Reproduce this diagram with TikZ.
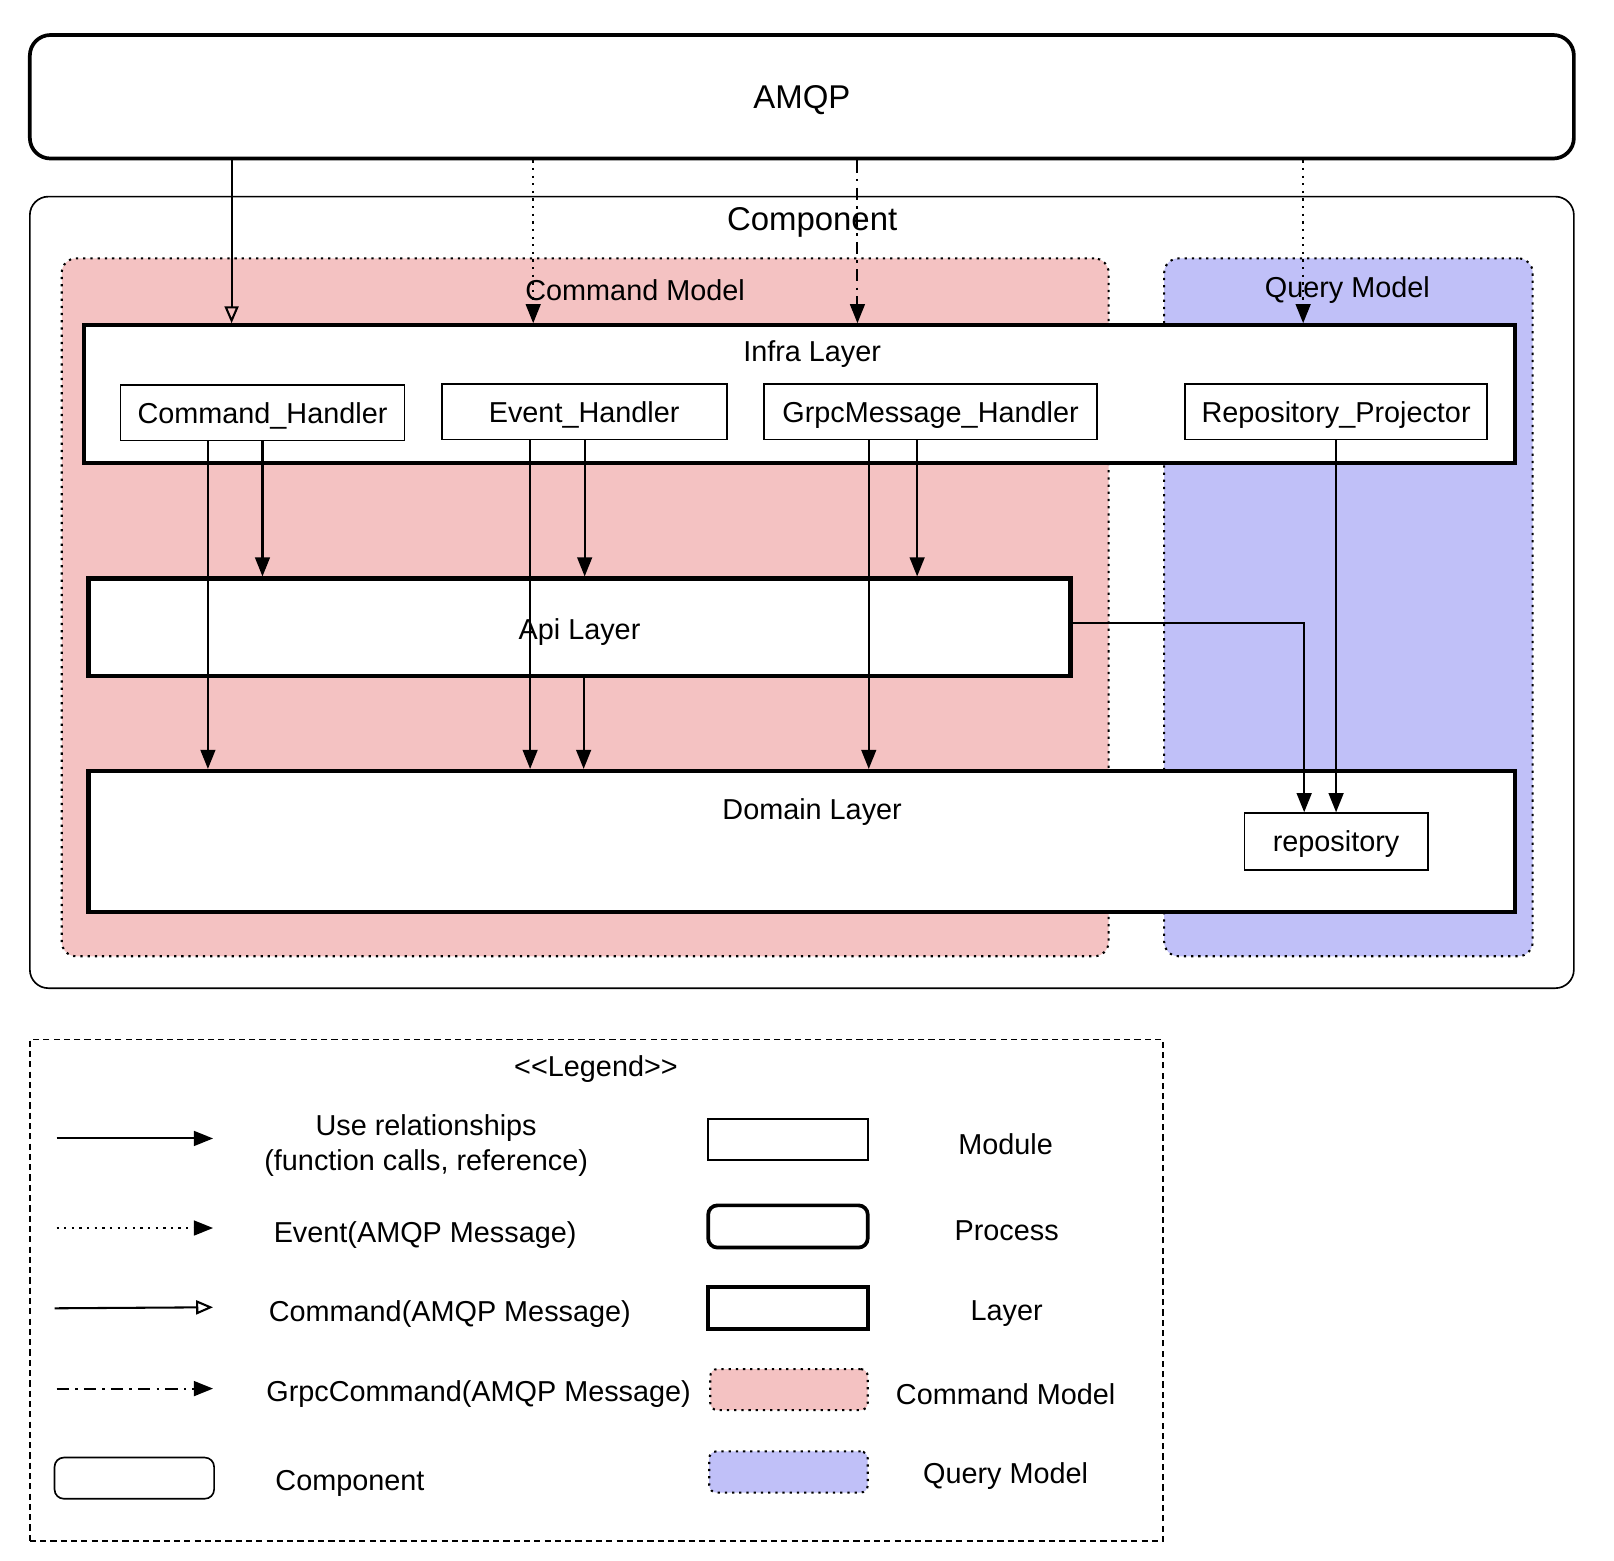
\documentclass[tikz,border=0pt]{standalone}
\usepackage{fontspec}
\setmainfont{Liberation Sans}
\usetikzlibrary{arrows.meta,fit}
\definecolor{cmdpink}{RGB}{244,194,194}
\definecolor{qrylav}{RGB}{192,192,248}
\newcommand{\modtext}[1]{\raisebox{-5pt}[0pt][0pt]{#1}}
\begin{document}
\begin{tikzpicture}[x=0.5pt,y=-0.5pt,
 every node/.style={font=\fontsize{14}{17}\selectfont, inner sep=0pt},
 big/.style={font=\fontsize{16}{19}\selectfont},
 process/.style={draw, line width=1.8pt, rounded corners=10pt, fill=white},
 compbox/.style={draw, line width=0.8pt, rounded corners=9pt, fill=white},
 region/.style={draw, line width=1pt, dash pattern=on 1.1pt off 2.4pt, rounded corners=7pt},
 layer/.style={draw, line width=2pt, fill=white},
 module/.style={draw, line width=0.9pt, fill=white},
 tipfill/.style={-{Triangle[length=9.3pt,width=7.2pt]}},
 use/.style={draw, line width=1pt, tipfill},
 evt/.style={use, dash pattern=on 1.1pt off 2.6pt},
 cmd/.style={draw, line width=1pt, -{Triangle[open,length=8.2pt,width=6.8pt]}},
 grpc/.style={use, dash pattern=on 6pt off 3pt on 1.2pt off 3pt},
 legbox/.style={draw, line width=0.8pt, dash pattern=on 3pt off 2pt},
]
\useasboundingbox (0,0) rectangle (1568,1516);

% AMQP process
\node[process, fit={(29,34) (1529,154)}] (amqp) {};
\node[big] (amqpt) at (779,97) {AMQP};

% Component
\node[compbox, fit={(29,191) (1529,960)}] (comp) {};
\node[big] (compt) at (789,216) {Component};

% Models
\node[region, fill=cmdpink, fit={(60,251) (1077,929)}] (cmdm) {};
\node[region, fill=qrylav, fit={(1131,251) (1489,929)}] (qrym) {};
\node (cmdmt) at (617,282) {Command Model};
\node (qrymt) at (1309,282) {Query Model};

% Layers
\node[layer, fit={(82,316) (1472,450)}] (infra) {};
\node (infrat) at (789,344) {Infra Layer};
\node[layer, fit={(86,562) (1040,657)}] (api) {};
\node (apit) at (563,614) {Api Layer};
\node[layer, fit={(86,749) (1472,886)}] (domain) {};
\node (domaint) at (789,789) {Domain Layer};

% Modules
\node[module, minimum width=138pt, minimum height=27pt] (ch) at (255,401) {\modtext{Command\_Handler}};
\node[module, minimum width=138.5pt, minimum height=27pt] (eh) at (567.5,400) {\modtext{Event\_Handler}};
\node[module, minimum width=162pt, minimum height=27pt] (gh) at (904,400) {\modtext{GrpcMessage\_Handler}};
\node[module, minimum width=147pt, minimum height=27pt] (rp) at (1298,400) {\modtext{Repository\_Projector}};
\node[module, minimum width=89pt, minimum height=27.5pt] (repo) at (1298,817.5) {\modtext{repository}};

% AMQP connectors
\draw[cmd] (amqp.south -| 225,0) -- (infra.north -| 225,0);
\draw[evt] (amqp.south -| 518,0) -- (infra.north -| 518,0);
\draw[grpc] (amqp.south -| 833,0) -- (infra.north -| 833,0);
\draw[evt] (amqp.south -| 1266,0) -- (infra.north -| 1266,0);

% Use relationships
\draw[use] (ch.south -| 202,0) -- (domain.north -| 202,0);
\draw[use] (ch.south -| 255,0) -- (api.north -| 255,0);
\draw[use] (eh.south -| 515,0) -- (domain.north -| 515,0);
\draw[use] (eh.south -| 568,0) -- (api.north -| 568,0);
\draw[use] (api.south -| 567,0) -- (domain.north -| 567,0);
\draw[use] (gh.south -| 844,0) -- (domain.north -| 844,0);
\draw[use] (gh.south -| 891,0) -- (api.north -| 891,0);
\draw[use] (api.east |- 0,605) -| (repo.north -| 1267,0);
\draw[use] (rp.south -| 1298,0) -- (repo.north -| 1298,0);

% Legend
\node[legbox, fit={(29,1010) (1130,1497)}] (legend) {};
\node (legt) at (579,1039) {<\kern0pt<Legend>\kern0pt>};

\coordinate (l1a) at (55,1106); \coordinate (l1b) at (207,1106);
\draw[use] (l1a) -- (l1b);
\node[align=center] (l1t) at (414,1113) {Use relationships\\(function calls, reference)};
\node[module, fit={(688,1087) (843,1127)}] (l1s) {};
\node (l1u) at (977,1112) {Module};

\coordinate (l2a) at (55,1193); \coordinate (l2b) at (207,1193);
\draw[evt] (l2a) -- (l2b);
\node (l2t) at (413,1200) {Event(AMQP Message)};
\node[draw, line width=1.8pt, rounded corners=4.5pt, fit={(688,1171) (843,1212)}] (l2s) {};
\node (l2u) at (978,1196) {Process};

\coordinate (l3a) at (53,1271); \coordinate (l3b) at (207,1270);
\draw[cmd] (l3a) -- (l3b);
\node (l3t) at (437,1277) {Command(AMQP Message)};
\node[layer, fit={(688,1250) (843,1291)}] (l3s) {};
\node (l3u) at (978,1276) {Layer};

\coordinate (l4a) at (55,1349); \coordinate (l4b) at (207,1349);
\draw[grpc] (l4a) -- (l4b);
\node (l4t) at (465,1354) {GrpcCommand(AMQP Message)};
\node[region, rounded corners=3.5pt, fill=cmdpink, fit={(690,1330) (843,1370)}] (l4s) {};
\node (l4u) at (977,1354) {Command Model};

\node[compbox, rounded corners=4.5pt, fit={(53,1416) (208,1456)}] (l5s) {};
\node (l5t) at (340,1441) {Component};
\node[region, rounded corners=3.5pt, fill=qrylav, fit={(689,1410) (843,1450)}] (l5q) {};
\node (l5u) at (977,1434) {Query Model};
\end{tikzpicture}
\end{document}
